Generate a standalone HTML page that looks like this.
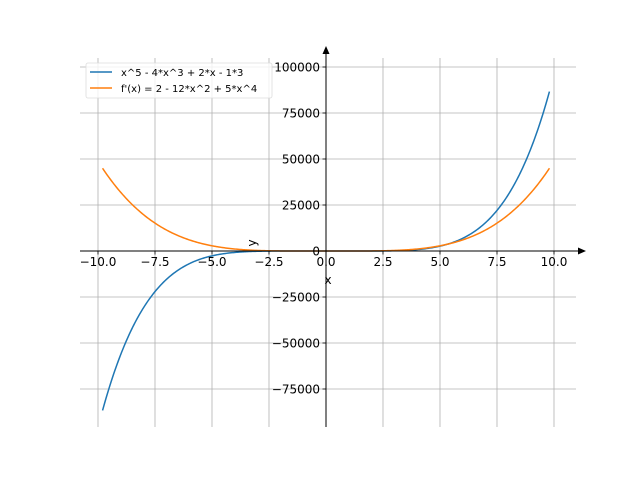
<!DOCTYPE html>
<html><head><meta charset="utf-8"><style>body{margin:0;background:#fff}svg{display:block}text{font-family:"DejaVu Sans","Liberation Sans",sans-serif;font-size:12px;fill:#000}</style></head>
<body>
<svg id="s" width="640" height="480" viewBox="0 0 640 480" xmlns="http://www.w3.org/2000/svg">
<g id="grid" stroke="#b0b0b0" stroke-width="0.8"></g>
<path id="p1" fill="none" stroke="#1f77b4" stroke-width="1.5"/>
<path id="p2" fill="none" stroke="#ff7f0e" stroke-width="1.5"/>
<line x1="80" y1="251" x2="580" y2="251" stroke="#000" stroke-width="1"/>
<line x1="326" y1="427" x2="326" y2="52" stroke="#000" stroke-width="1"/>
<polygon points="586,251 578,247.5 578,254.5" fill="#000"/>
<polygon points="326,46 322.5,54 329.5,54" fill="#000"/>
<g id="ticks" stroke="#000" stroke-width="0.8"></g>
<g id="labels"></g>
<text x="328" y="284" text-anchor="middle">x</text>
<text transform="translate(256,243) rotate(-90)" text-anchor="middle">y</text>
<rect x="86" y="63" width="186" height="35" rx="2" fill="#fff" fill-opacity="0.8" stroke="#ddd" stroke-width="0.8"/>
<line x1="90" y1="72" x2="112" y2="72" stroke="#1f77b4" stroke-width="1.5"/>
<line x1="90" y1="88" x2="112" y2="88" stroke="#ff7f0e" stroke-width="1.5"/>
<text x="121" y="76" style="font-size:10px">x^5 - 4*x^3 + 2*x - 1*3</text>
<text x="121" y="92" style="font-size:10px">f'(x) = 2 - 12*x^2 + 5*x^4</text>
</svg>
<script>
var X=function(x){return 326+22.8*x},Y=function(y){return 251-0.00184*y};
var g=document.getElementById('grid'),t=document.getElementById('ticks'),l=document.getElementById('labels'),ns='http://www.w3.org/2000/svg';
function el(p,n,a,txt){var e=document.createElementNS(ns,n);for(var k in a)e.setAttribute(k,a[k]);if(txt)e.textContent=txt;p.appendChild(e);}
for(var i=-4;i<=4;i++){var v=i*2.5,x=X(v);el(g,'line',{x1:x,x2:x,y1:58,y2:427});el(t,'line',{x1:x,x2:x,y1:251,y2:254.5});
el(l,'text',{x:x,y:266,'text-anchor':'middle'},(v<0?'\u2212':'')+Math.abs(v).toFixed(1));}
for(var j=-3;j<=4;j++){var v=j*25000,y=Y(v);el(g,'line',{x1:80,x2:576,y1:y,y2:y});el(t,'line',{x1:322.5,x2:326,y1:y,y2:y});
el(l,'text',{x:320,y:y+4.5,'text-anchor':'end'},(v<0?'\u2212':'')+Math.abs(v));}
var a='',b='';for(var k=0;k<=400;k++){var x=-9.8+19.6*k/400,f=Math.pow(x,5)-4*x*x*x+2*x-3,d=2-12*x*x+5*Math.pow(x,4);
a+=(k?'L':'M')+X(x).toFixed(2)+','+Y(f).toFixed(2);b+=(k?'L':'M')+X(x).toFixed(2)+','+Y(d).toFixed(2);}
document.getElementById('p1').setAttribute('d',a);document.getElementById('p2').setAttribute('d',b);
</script>
</body></html>
